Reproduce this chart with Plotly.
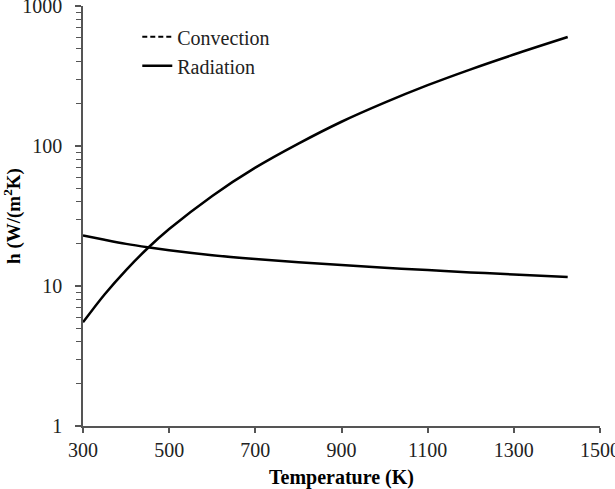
import plotly.graph_objects as go

# Data
temperature = [300, 350, 400, 450, 500, 600, 700, 800, 900, 1000, 1100, 1200, 1300, 1425]
h_radiation = [5.5, 8.7, 13.0, 18.6, 25.5, 44, 70, 104, 149, 204, 272, 353, 450, 600]
h_convection = [23.0, 21.4, 20.0, 18.9, 18.0, 16.6, 15.6, 14.8, 14.1, 13.5, 13.0, 12.5, 12.1, 11.6]

x_ticks = [300, 500, 700, 900, 1100, 1300, 1500]
y_ticks = [1, 10, 100, 1000]

FONT = "Liberation Serif"

fig = go.Figure()

# Convection curve (drawn solid in the plot)
fig.add_trace(go.Scatter(
    x=temperature, y=h_convection, mode="lines", line_shape="spline",
    line=dict(color="black", width=2.5), showlegend=False, name="Convection",
))
# Legend entry for convection (dashed in legend)
fig.add_trace(go.Scatter(
    x=[None], y=[None], mode="lines", name="Convection",
    line=dict(color="black", width=2, dash="5px,3px"), legendgroup="c",
))
fig.add_trace(go.Scatter(
    x=temperature, y=h_radiation, mode="lines", line_shape="spline",
    line=dict(color="black", width=2.5), name="Radiation", legendgroup="r",
))

fig.update_layout(
    width=615, height=489,
    margin=dict(l=83, r=15, t=6, b=63),
    paper_bgcolor="white", plot_bgcolor="white",
    font=dict(family=FONT, size=20, color="black"),
    showlegend=True,
    legend=dict(
        x=0.105, y=0.973, xanchor="left", yanchor="top",
        bgcolor="rgba(0,0,0,0)", font=dict(family=FONT, size=20, color="#222"),
        tracegroupgap=15, traceorder="normal",
    ),
    xaxis=dict(
        range=[300, 1500], tickvals=x_ticks, ticktext=[str(v) for v in x_ticks],
        showgrid=False, zeroline=False,
        showline=True, linecolor="#555", linewidth=1.5,
        ticks="outside", ticklen=5, tickwidth=1.5, tickcolor="#555",
        tickfont=dict(family=FONT, size=20, color="#222"),
        ticklabeloverflow="allow",
        title=dict(text="<b>Temperature (K)</b>", font=dict(family=FONT, size=20, color="black"), standoff=10),
        automargin=False,
    ),
    yaxis=dict(
        type="log", range=[0, 3], tickvals=y_ticks, ticktext=[str(v) for v in y_ticks],
        showgrid=False, zeroline=False,
        showline=True, linecolor="#555", linewidth=1.5,
        ticks="outside", ticklen=6, tickwidth=1.5, tickcolor="#555",
        minor=dict(ticks="outside", ticklen=5, tickwidth=1.2, tickcolor="#555", dtick="D1", showgrid=False),
        tickfont=dict(family=FONT, size=20, color="#222"),
        ticklabeloverflow="allow",
        ticklabelstandoff=9,
        title=dict(text="<b>h (W/(m<sup>2</sup>K)</b>", font=dict(family=FONT, size=19, color="black"), standoff=3),
        automargin=False,
    ),
)

fig.write_html("out.html")
